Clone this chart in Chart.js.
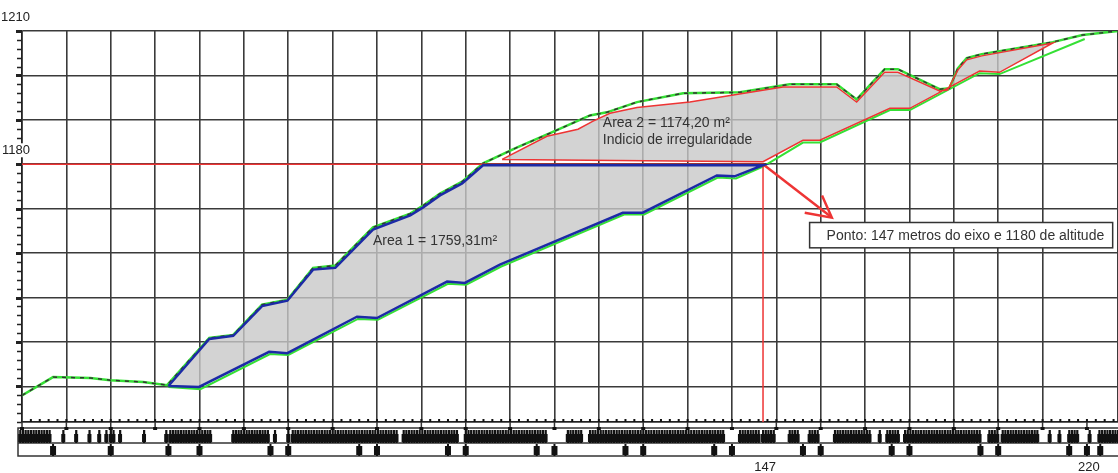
<!DOCTYPE html>
<html>
<head>
<meta charset="utf-8">
<script src="https://cdn.jsdelivr.net/npm/chart.js@4"></script>
<style>
  body { margin: 0; background: #fff; }
</style>
</head>
<body>
<canvas id="profile" width="1118" height="473"></canvas>
<script>
// terrain profile, distance (m) vs altitude (m)
const terrainTop = [[-20,1128],[-13,1132.1],[-4.6,1131.9],[-0.1,1131.4],[7.3,1131],[12.7,1130.3],[22.2,1140.9],[27.6,1141.6],[34.1,1148.4],[39.8,1149.5],[45.6,1156.7],[50.6,1157.2],[59.1,1165.8],[67.5,1168.9],[70.4,1170.7],[74.2,1173.4],[79.2,1176.1],[83.9,1180.2],[91.6,1183.8],[99,1187],[108,1191],[111.8,1191.7],[118.6,1194],[129,1196],[141.8,1196.2],[153,1198],[163.6,1198],[168.1,1194.6],[174.4,1201.4],[177.4,1201.4],[186.8,1196.9],[189,1197.1],[190.9,1201.6],[192.9,1203.9],[196.3,1204.8],[212.3,1207.5],[219,1209.1],[227,1210]]
const terrainLower = [[13,1129.9],[20.2,1129.4],[35.9,1137.3],[40,1137.1],[55.7,1145.2],[60.2,1145],[76,1153.1],[80.1,1152.9],[88,1157],[115.7,1168.7],[120.2,1168.7],[136.8,1177],[140.9,1176.8],[147,1179.5],[156,1184.9],[159.8,1184.9],[175.6,1192.2],[180.1,1192.2],[195.8,1200.5],[200.3,1200.3],[219.5,1208.2]]

const area1Upper = [[13,1130.1],[22.2,1140.7],[27.6,1141.4],[34.1,1148.1],[39.8,1149.3],[45.6,1156.3],[50.6,1156.7],[59.1,1165.3],[67.5,1168.5],[70.4,1170.3],[74.2,1173],[79.2,1175.7],[83.9,1179.8],[147,1179.8]]
const area1Lower = [[13,1130.1],[19.9,1129.9],[35.7,1137.8],[39.8,1137.5],[55.5,1145.7],[60,1145.4],[75.8,1153.6],[79.8,1153.3],[87.7,1157.4],[115.4,1169.1],[119.9,1169.1],[136.6,1177.5],[140.6,1177.3],[147,1179.8]]

const area2Upper = [[88.2,1181.1],[98.3,1186.3],[105.3,1187.9],[108.7,1189.7],[112.5,1191.5],[118.6,1192.8],[130.5,1194],[151.5,1197.4],[163.6,1197.4],[168.1,1194],[174.4,1200.7],[177.4,1200.7],[186.8,1196.5],[188.6,1196.7],[190.9,1201.2],[192.9,1203.5],[196.3,1204.4],[212.3,1207.3]]
const area2Lower = [[88.2,1181.1],[147,1180.6],[156,1185.4],[159.8,1185.4],[175.6,1192.6],[180.1,1192.6],[195.8,1201],[200.3,1200.7],[212.3,1207.3]]

const refLine = [[-20,1180],[147,1180]]
const refDrop = [[147,1180],[147,1122]]
const arrowShaft = [[147,1180],[162.3,1168.2]]
const arrowHead = [[156.4,1169.1],[162.5,1168],[160.3,1173]]

const yLabels = [1210, 1180]
const xLabels = [147, 220]

const area1Text = { x: 59.1, y: 1162.6, lines: ['Area 1 = 1759,31m²'] }
const area2Text = { x: 110.9, y: 1189.3, lines: ['Area 2 = 1174,20 m²', 'Indicio de irregularidade'] }
const pointBox = { x1: 157.5, x2: 225.8, y1: 1166.9, y2: 1161.2, text: 'Ponto: 147 metros do eixo e 1180 de altitude' }

// station marks in the strip under the profile
const bandDense = [[-21,-13.5],[13.4,22.9],[27.6,35.5],[41,65],[66,78],[80,98],[103,106],[108,138],[141.8,146.3],[147,149.7],[153,155.3],[157.5,159.8],[163.2,171],[175,177.8],[179,195.8],[198,200.3],[201,209.3],[216,218.3],[222.8,227]]
const bandSingle = [-10.7,-7.8,-4.8,-2.6,-1,0,0.6,2.1,7.5,12.5,37,40,173.3,211.6,213.8,220.6]
const bandMajor = [-13,0,13,20,36,40,56,60,76,80,96,100,116,120,136,140,156,160,176,180,196,200,216,220,223]

const pts = arr => arr.map(p => ({ x: p[0], y: p[1] }))

const RED = '#ee3434'
const BLUE = '#1c2aa6'
const GREEN = '#35e035'
const FONT = '"Liberation Sans", Arial, sans-serif'

const decor = {
  id: 'decor',
  afterDraw(chart) {
    const ctx = chart.ctx, xs = chart.scales.x, ys = chart.scales.y, a = chart.chartArea
    ctx.save()
    ctx.strokeStyle = '#222'
    ctx.fillStyle = '#111'

    // minor ticks on the altitude axis
    for (let v = ys.min; v <= ys.max; v += 2) {
      const py = Math.round(ys.getPixelForValue(v)) + 0.5
      const major = v % 10 === 0
      ctx.lineWidth = major ? 3 : 1.5
      ctx.beginPath()
      ctx.moveTo(a.left - (major ? 6 : 5), py)
      ctx.lineTo(a.left, py)
      ctx.stroke()
    }
    // small ticks along the bottom
    for (let u = -18; u < xs.max; u += 2) {
      const px = xs.getPixelForValue(u)
      ctx.fillRect(px - 1, a.bottom - 3, 2, 3)
    }

    // strip with stations
    const b1 = a.bottom + 6, b2 = a.bottom + 21, b3 = a.bottom + 34
    const left = a.left - 4
    ctx.lineWidth = 1.5
    ctx.strokeStyle = '#333'
    ctx.strokeRect(left, b1, a.right - left + 2, b3 - b1)
    ctx.beginPath()
    ctx.moveTo(left, b2)
    ctx.lineTo(a.right, b2)
    ctx.stroke()
    for (let u = -20; u <= 220; u += 10) {
      const px = xs.getPixelForValue(u)
      ctx.beginPath()
      ctx.moveTo(px, a.bottom)
      ctx.lineTo(px, b1)
      ctx.stroke()
      ctx.fillRect(px - 2, b1 - 1, 4, 3)
    }
    const tick = u => {
      const px = xs.getPixelForValue(u)
      if (px < left || px > a.right) return
      ctx.fillRect(px - 1, b1 + 2, 2.2, b2 - b1 - 2)
      ctx.fillRect(px - 2, b2 - 9, 4, 8)
    }
    bandDense.forEach(r => {
      for (let u = r[0]; u <= r[1]; u += 0.6) tick(u)
    })
    bandSingle.forEach(tick)
    bandMajor.forEach(u => {
      const px = xs.getPixelForValue(u)
      ctx.fillRect(px - 1, b2 + 1, 2, b3 - b2 - 1)
      ctx.fillRect(px - 3, b2 + 3, 6, 9)
    })

    // axis labels
    ctx.font = '13px ' + FONT
    ctx.textBaseline = 'middle'
    ctx.textAlign = 'right'
    yLabels.forEach(v => {
      const py = ys.getPixelForValue(v) - 14
      ctx.fillStyle = '#fff'
      ctx.fillRect(0, py - 7, 31, 14)
      ctx.fillStyle = '#222'
      ctx.fillText(String(v), 30, py)
    })
    ctx.textAlign = 'center'
    xLabels.forEach(v => ctx.fillText(String(v), xs.getPixelForValue(v) + 2, b3 + 11))

    // notes
    ctx.fillStyle = '#333'
    ctx.font = '14px ' + FONT
    ctx.textAlign = 'left'
    ;[area1Text, area2Text].forEach(t => {
      t.lines.forEach((line, i) => {
        ctx.fillText(line, xs.getPixelForValue(t.x), ys.getPixelForValue(t.y) + i * 17)
      })
    })
    const bx = xs.getPixelForValue(pointBox.x1), by = ys.getPixelForValue(pointBox.y1)
    const bw = xs.getPixelForValue(pointBox.x2) - bx, bh = ys.getPixelForValue(pointBox.y2) - by
    ctx.fillStyle = '#fff'
    ctx.fillRect(bx, by, bw, bh)
    ctx.strokeStyle = '#333'
    ctx.lineWidth = 1.5
    ctx.strokeRect(bx, by, bw, bh)
    ctx.fillStyle = '#333'
    ctx.fillText(pointBox.text, bx + 17, by + bh / 2 + 1)
    ctx.restore()
  }
}

new Chart(document.getElementById('profile'), {
  type: 'line',
  data: {
    datasets: [
      {
        data: pts(area1Upper.concat(area1Lower.slice().reverse())),
        borderColor: BLUE, borderWidth: 2.5,
        backgroundColor: 'rgba(200,200,200,0.8)', fill: 'shape'
      },
      {
        data: pts(area2Upper.concat(area2Lower.slice().reverse())),
        borderColor: RED, borderWidth: 1.5,
        backgroundColor: 'rgba(200,200,200,0.8)', fill: 'shape'
      },
      { data: pts(arrowShaft), borderColor: RED, borderWidth: 2.5 },
      { data: pts(arrowHead), borderColor: RED, borderWidth: 2.5 },
      { data: pts(refLine), borderColor: RED, borderWidth: 1.5 },
      { data: pts(refDrop), borderColor: RED, borderWidth: 1.5 },
      { data: pts(terrainTop), borderColor: '#333', borderWidth: 1.5, borderDash: [4, 5] },
      { data: pts(terrainTop), borderColor: GREEN, borderWidth: 2.5 },
      { data: pts(terrainLower), borderColor: GREEN, borderWidth: 2 }
    ]
  },
  options: {
    responsive: false,
    animation: false,
    devicePixelRatio: 1,
    layout: { padding: { left: 22, top: 31, right: 0, bottom: 51 } },
    elements: {
      point: { radius: 0 },
      line: { tension: 0, fill: false }
    },
    scales: {
      x: {
        type: 'linear', min: -20, max: 227,
        ticks: { display: false, stepSize: 10 },
        grid: { color: '#3a3a3a', lineWidth: 1.6, drawTicks: false },
        border: { display: true, color: '#222', width: 1.6 }
      },
      y: {
        type: 'linear', min: 1122, max: 1210,
        ticks: { display: false, stepSize: 10 },
        grid: { color: '#3a3a3a', lineWidth: 1.6, drawTicks: false },
        border: { display: true, color: '#222', width: 1.6 }
      }
    },
    plugins: {
      legend: { display: false },
      tooltip: { enabled: false },
      filler: { drawTime: 'beforeDatasetsDraw' }
    }
  },
  plugins: [decor]
})
</script>
</body>
</html>
